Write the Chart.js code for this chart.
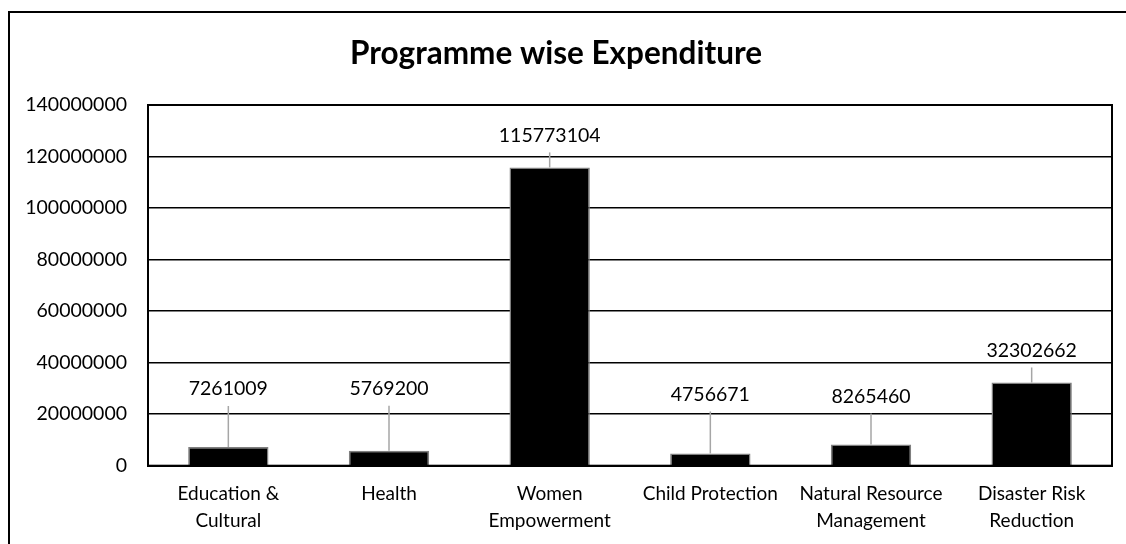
<!DOCTYPE html>
<html>
<head>
<meta charset="utf-8">
<script src="https://cdn.jsdelivr.net/npm/chart.js@4"></script>
<style>
  html, body { margin: 0; padding: 0; background: #fff; }
  #wrap { width: 1126px; height: 544px; }
</style>
</head>
<body>
<div id="wrap"><canvas id="myChart" width="1126" height="544"></canvas></div>
<script>
// chart data
const categories = [
  ["Education &", "Cultural"],
  "Health",
  ["Women", "Empowerment"],
  "Child Protection",
  ["Natural Resource", "Management"],
  ["Disaster Risk", "Reduction"]
];
const expenditure = [7261009, 5769200, 115773104, 4756671, 8265460, 32302662];
const yMin = 0;
const yMax = 140000000;
const yStep = 20000000;

// how far (px) each value label sits above its bar, like the hand-moved excel labels
const labelLift = [58, 62, 32, 59, 48, 32];

const FONT = "Lato, 'Liberation Sans', sans-serif";
const ctx = document.getElementById("myChart");

// outer frame of the chart + plot frame
const framePlugin = {
  id: "frames",
  beforeDraw(chart) {
    const c = chart.ctx;
    c.save();
    c.fillStyle = "#fff";
    c.fillRect(0, 0, chart.width, chart.height);
    c.strokeStyle = "#000";
    c.lineWidth = 2;
    c.strokeRect(9, 12, 1300, 700);
    c.restore();
  },
  afterDatasetsDraw(chart) {
    const a = chart.chartArea;
    const c = chart.ctx;
    c.save();
    c.strokeStyle = "#000";
    c.lineWidth = 2;
    c.strokeRect(a.left, a.top, a.right - a.left, a.bottom - a.top);
    c.restore();
  }
};

// value labels with leader lines
const labelPlugin = {
  id: "valueLabels",
  afterDatasetsDraw(chart) {
    const c = chart.ctx;
    const meta = chart.getDatasetMeta(0);
    c.save();
    c.font = "19.5px " + FONT;
    c.textAlign = "center";
    c.textBaseline = "middle";
    meta.data.forEach((bar, i) => {
      const ly = bar.y - labelLift[i];
      const lineTop = ly + 17;
      if (lineTop < bar.y - 1) {
        c.strokeStyle = "#a6a6a6";
        c.lineWidth = 1.5;
        c.beginPath();
        c.moveTo(bar.x, lineTop);
        c.lineTo(bar.x, bar.y);
        c.stroke();
      }
      c.fillStyle = "#000";
      c.fillText(String(expenditure[i]), bar.x, ly);
    });
    c.restore();
  }
};

new Chart(ctx, {
  type: "bar",
  data: {
    labels: categories,
    datasets: [
      {
        label: "Expenditure",
        data: expenditure,
        backgroundColor: "#000",
        borderColor: "#7f7f7f",
        borderWidth: 1.5,
        barPercentage: 0.5,
        categoryPercentage: 1
      }
    ]
  },
  options: {
    responsive: false,
    animation: false,
    layout: { padding: { left: 0, right: 14, top: 0, bottom: 0 } },
    plugins: {
      legend: { display: false },
      tooltip: { enabled: false },
      title: {
        display: true,
        text: "Programme wise Expenditure",
        color: "#000",
        font: { family: FONT, size: 31.5, weight: "bold", lineHeight: 1.2 },
        padding: { top: 35, bottom: 32.2 }
      }
    },
    scales: {
      x: {
        grid: { display: false, drawTicks: false },
        border: { display: true, color: "#000", width: 2 },
        ticks: {
          color: "#000",
          font: { family: FONT, size: 19, lineHeight: 1.4 },
          padding: 15,
          maxRotation: 0,
          autoSkip: false
        },
        afterFit(scale) { scale.height = 78.3; }
      },
      y: {
        min: yMin,
        max: yMax,
        grid: { color: "#000", lineWidth: 1.5, drawTicks: false },
        border: { display: true, color: "#000", width: 2 },
        ticks: {
          stepSize: yStep,
          color: "#000",
          font: { family: FONT, size: 19.5 },
          padding: 21,
          callback: (v) => String(v)
        },
        afterFit(scale) { scale.width = 148; }
      }
    }
  },
  plugins: [framePlugin, labelPlugin]
});
</script>
</body>
</html>
